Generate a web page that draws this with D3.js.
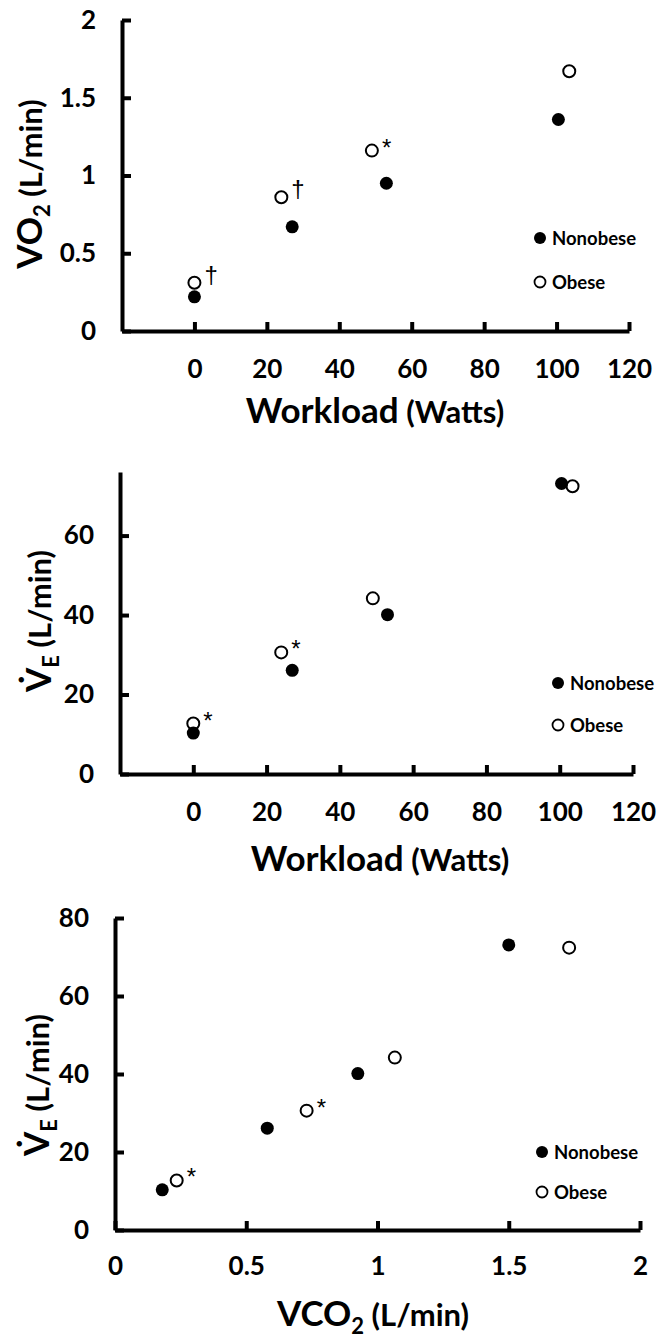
<!DOCTYPE html>
<html lang="en">
<head>
<meta charset="UTF-8">
<script src="https://cdn.jsdelivr.net/npm/d3@7"></script>
<style>
  body { margin: 0; background: #fff; }
  svg text { font-family: Lato, "Open Sans", sans-serif; fill: #000; }
  .tick text { font-weight: 700; font-size: 26px; }
  .axis-title { font-weight: 700; font-size: 35px; }
  .legend { font-weight: 700; font-size: 18.5px; }
  .mark { font-family: "Liberation Sans", sans-serif !important; font-size: 24px; font-weight: 400; }
</style>
</head>
<body>
<div id="chart"></div>
<script>
// workload (W) reached by each group at each stage
var wattsNonobese = [0, 27, 53, 100.5];
var wattsObese = [0, 24, 49, 103.5];
// VO2 (L/min)
var vo2Nonobese = [0.22, 0.67, 0.95, 1.36];
var vo2Obese = [0.31, 0.86, 1.16, 1.67];
// VE (L/min)
var veNonobese = [10.3, 26.1, 40.1, 73.1];
var veObese = [12.7, 30.6, 44.2, 72.4];
// VCO2 (L/min)
var vco2Nonobese = [0.18, 0.58, 0.925, 1.50];
var vco2Obese = [0.235, 0.73, 1.066, 1.73];
// significance marks next to obese points
var vo2Marks = ["\u2020", "\u2020", "*", ""];
var veMarks = ["*", "*", "", ""];

var wattTicks = [0, 20, 40, 60, 80, 100, 120];
var vo2Ticks = [0, 0.5, 1, 1.5, 2];
var veTicksA = [0, 20, 40, 60];
var veTicksB = [0, 20, 40, 60, 80];
var vco2Ticks = [0, 0.5, 1, 1.5, 2];
var groups = ["Nonobese", "Obese"];

var svg = d3.select("#chart").append("svg")
    .attr("width", 657)
    .attr("height", 1338);

function panel(p) {
    var g = svg.append("g");
    var x = d3.scaleLinear().domain(p.xDomain).range(p.xRange);
    var y = d3.scaleLinear().domain(p.yDomain).range(p.yRange);

    var yAxis = d3.axisLeft(y).tickValues(p.yTicks).tickSizeInner(-9).tickSizeOuter(0)
        .tickPadding(26).tickFormat(d3.format("~g"));
    var xAxis = d3.axisBottom(x).tickValues(p.xTicks).tickSizeInner(-9).tickSizeOuter(0)
        .tickPadding(p.xPad).tickFormat(d3.format("~g"));

    var gy = g.append("g").attr("transform", "translate(" + p.xRange[0] + ",0)").call(yAxis);
    var gx = g.append("g").attr("transform", "translate(0," + p.yRange[0] + ")").call(xAxis);
    [gx, gy].forEach(function (a) {
        a.select(".domain").attr("stroke", "#000").attr("stroke-width", 4);
        a.selectAll(".tick line").attr("stroke", "#000").attr("stroke-width", 4);
    });

    // obese (open) then nonobese (filled)
    var obese = p.xObese.map(function (d, i) { return { x: d, y: p.yObese[i], m: p.marks[i] }; });
    var non = p.xNon.map(function (d, i) { return { x: d, y: p.yNon[i] }; });

    g.selectAll(".obese").data(obese).enter().append("circle")
        .attr("cx", function (d) { return x(d.x); })
        .attr("cy", function (d) { return y(d.y); })
        .attr("r", 6)
        .attr("fill", "#fff").attr("stroke", "#000").attr("stroke-width", 2);
    g.selectAll(".non").data(non).enter().append("circle")
        .attr("cx", function (d) { return x(d.x); })
        .attr("cy", function (d) { return y(d.y); })
        .attr("r", 6.5)
        .attr("fill", "#000");
    g.selectAll(".mark").data(obese.filter(function (d) { return d.m; })).enter().append("text")
        .attr("class", "mark")
        .attr("x", function (d) { return x(d.x) + 10; })
        .attr("y", function (d) { return y(d.y) + (d.m == "*" ? 5 : 0); })
        .text(function (d) { return d.m; });

    // legend
    groups.forEach(function (name, i) {
        var ly = p.legend[1] + i * p.legendGap;
        g.append("circle").attr("cx", p.legend[0]).attr("cy", ly)
            .attr("r", i == 0 ? 6 : 5.5)
            .attr("fill", i == 0 ? "#000" : "#fff")
            .attr("stroke", "#000").attr("stroke-width", i == 0 ? 0 : 1.8);
        g.append("text").attr("class", "legend")
            .attr("x", p.legend[0] + 12).attr("y", ly + 6.5).text(name);
    });

    // axis titles
    var xt = g.append("text").attr("class", "axis-title")
        .attr("x", p.xTitle[0]).attr("y", p.xTitle[1]).attr("text-anchor", "middle");
    p.xLabel(xt);
    var yt = g.append("text").attr("class", "axis-title")
        .attr("text-anchor", "middle")
        .attr("transform", "translate(" + p.yTitle[0] + "," + p.yTitle[1] + ") rotate(-90)");
    p.yLabel(yt);
}

function workloadLabel(t) { t.text("Workload"); t.append("tspan").style("font-size", "31px").text(" (Watts)"); }
function sub(t, main, s, rest) {
    t.append("tspan").text(main);
    t.append("tspan").attr("dy", 8).style("font-size", "22px").text(s);
    t.append("tspan").attr("dy", -8).style("font-size", "31px").text(rest);
}

panel({
    xDomain: [-20, 120], xRange: [122, 629], xTicks: wattTicks, xPad: 29,
    yDomain: [0, 2], yRange: [331, 20], yTicks: vo2Ticks,
    xNon: wattsNonobese, yNon: vo2Nonobese, xObese: wattsObese, yObese: vo2Obese, marks: vo2Marks,
    legend: [540, 238], legendGap: 44,
    xTitle: [375, 423], xLabel: workloadLabel,
    yTitle: [42, 184], yLabel: function (t) { sub(t, "VO", "2", " (L/min)"); }
});

panel({
    xDomain: [-20, 120], xRange: [120, 633], xTicks: wattTicks, xPad: 29,
    yDomain: [0, 76], yRange: [774, 472], yTicks: veTicksA,
    xNon: wattsNonobese, yNon: veNonobese, xObese: wattsObese, yObese: veObese, marks: veMarks,
    legend: [558, 683], legendGap: 42,
    xTitle: [380, 871], xLabel: workloadLabel,
    yTitle: [51, 621], yLabel: function (t) { sub(t, "V\u0307", "E", " (L/min)"); }
});

panel({
    xDomain: [0, 2], xRange: [115, 640], xTicks: vco2Ticks, xPad: 27,
    yDomain: [0, 80], yRange: [1230, 918], yTicks: veTicksB,
    xNon: vco2Nonobese, yNon: veNonobese, xObese: vco2Obese, yObese: veObese, marks: veMarks,
    legend: [542, 1152], legendGap: 40,
    xTitle: [373, 1326], xLabel: function (t) { sub(t, "VCO", "2", " (L/min)"); },
    yTitle: [49, 1085], yLabel: function (t) { sub(t, "V\u0307", "E", " (L/min)"); }
});
</script>
</body>
</html>
